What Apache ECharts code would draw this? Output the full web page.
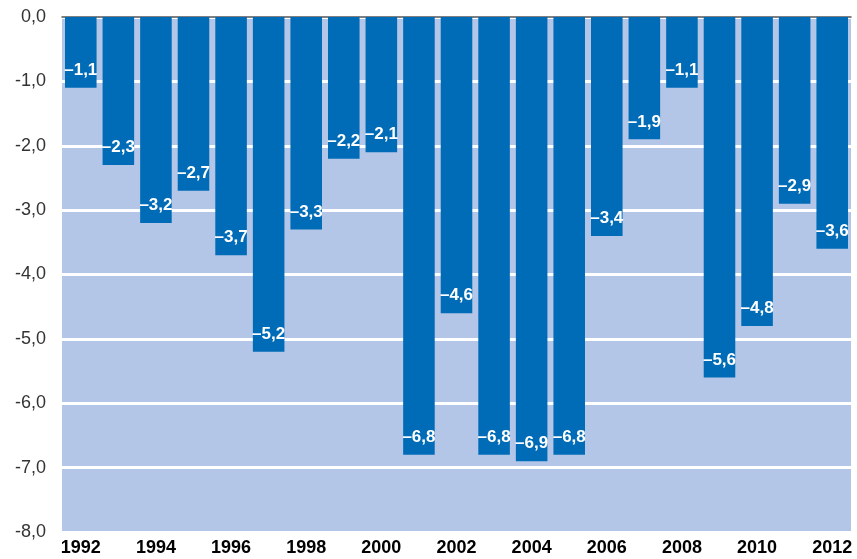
<!DOCTYPE html>
<html>
<head>
<meta charset="utf-8">
<script src="https://cdn.jsdelivr.net/npm/echarts@6/dist/echarts.min.js"></script>
<style>
  html, body { margin: 0; padding: 0; background: #ffffff; }
  #chart { width: 857px; height: 559px; }
</style>
</head>
<body>
<div id="chart"></div>
<script>
// Annual balance, 1992–2012
const years = ['1992', '1993', '1994', '1995', '1996', '1997', '1998', '1999', '2000', '2001',
  '2002', '2003', '2004', '2005', '2006', '2007', '2008', '2009', '2010', '2011', '2012'];
const balance = [-1.1, -2.3, -3.2, -2.7, -3.7, -5.2, -3.3, -2.2, -2.1, -6.8,
  -4.6, -6.8, -6.9, -6.8, -3.4, -1.9, -1.1, -5.6, -4.8, -2.9, -3.6];
const yTicks = { min: -8, max: 0, step: 1 };

const comma = (v) => v.toFixed(1).replace('.', ',');
const FONT = 'Liberation Sans, Arial, sans-serif';

const chart = echarts.init(document.getElementById('chart'), null, { renderer: 'canvas' });
chart.setOption({
  animation: false,
  grid: {
    left: 62, right: 6, top: 17, bottom: 27,
    show: true, backgroundColor: '#b4c6e7', borderWidth: 0
  },
  xAxis: [
    {
      type: 'category',
      data: years,
      position: 'bottom',
      axisLine: { show: false, onZero: false },
      axisTick: { show: false },
      axisLabel: {
        interval: 1,
        margin: 7,
        color: '#000000',
        fontFamily: FONT,
        fontWeight: 'bold',
        fontSize: 18
      }
    },
    {
      type: 'category',
      data: years,
      position: 'top',
      axisLine: { show: true, onZero: false, lineStyle: { color: '#555555', width: 1.5 } },
      axisTick: { show: false },
      axisLabel: { show: false }
    }
  ],
  yAxis: {
    type: 'value',
    min: yTicks.min,
    max: yTicks.max,
    interval: yTicks.step,
    axisLine: { show: false },
    axisTick: { show: false },
    splitLine: { show: true, lineStyle: { color: '#ffffff', width: 3 } },
    axisLabel: {
      margin: 16,
      color: '#333333',
      fontFamily: FONT,
      fontSize: 18,
      formatter: comma
    }
  },
  series: [{
    type: 'bar',
    data: balance,
    xAxisIndex: 0,
    barCategoryGap: '16%',
    itemStyle: { color: '#006bb6' },
    label: {
      show: true,
      position: 'insideBottom',
      distance: 9,
      color: '#ffffff',
      fontFamily: FONT,
      fontWeight: 'bold',
      fontSize: 17,
      formatter: (p) => comma(p.value).replace('-', '–')
    }
  }]
});
</script>
</body>
</html>
